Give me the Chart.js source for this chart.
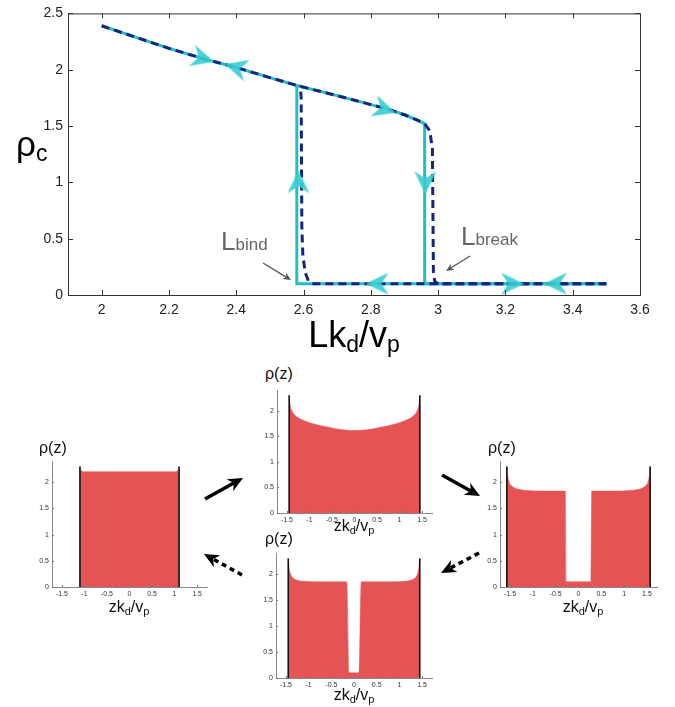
<!DOCTYPE html>
<html lang="en">
<head>
<meta charset="UTF-8">
<title>Hysteresis of central density</title>
<script src="https://cdn.jsdelivr.net/npm/chart.js"></script>
<style>
    body {
        margin: 0;
        width: 675px;
        height: 707px;
        position: relative;
        background: #fff;
        font-family: "Liberation Sans", Arial, sans-serif;
        overflow: hidden;
    }
    canvas { position: absolute; }
    .lbl { position: absolute; line-height: 1; white-space: nowrap; }
    .note { color: #666; font-size: 26px; }
    .note span { font-size: 17px; }
    .small { font-size: 16px; color: #111; }
    .small sub { font-size: 11px; vertical-align: baseline; position: relative; top: 3px; }
    svg { position: absolute; left: 0; top: 0; }
</style>
</head>
<body>
<canvas id="main" width="675" height="320" style="left:0;top:0"></canvas>

<div class="lbl" style="left:16px;top:126px;font-size:35px">ρ<span style="font-size:23px;position:relative;top:5px">c</span></div>
<div class="lbl" style="left:0;width:708px;text-align:center;top:317px;font-size:36px">Lk<span style="font-size:23px;position:relative;top:5px">d</span>/v<span style="font-size:23px;position:relative;top:5px">p</span></div>
<div class="lbl note" style="left:221px;top:228px">L<span>bind</span></div>
<div class="lbl note" style="left:461px;top:223px">L<span>break</span></div>

<canvas id="pA"></canvas>
<canvas id="pB"></canvas>
<canvas id="pC"></canvas>
<canvas id="pD"></canvas>

<div class="lbl small" style="left:39px;top:440px">ρ(z)</div>
<div class="lbl small" style="left:265px;top:366px">ρ(z)</div>
<div class="lbl small" style="left:488px;top:440px">ρ(z)</div>
<div class="lbl small" style="left:265px;top:531px">ρ(z)</div>
<div class="lbl small" style="left:79px;width:100px;text-align:center;top:599px">zk<sub>d</sub>/v<sub>p</sub></div>
<div class="lbl small" style="left:304px;width:100px;text-align:center;top:518px">zk<sub>d</sub>/v<sub>p</sub></div>
<div class="lbl small" style="left:533px;width:100px;text-align:center;top:599px">zk<sub>d</sub>/v<sub>p</sub></div>
<div class="lbl small" style="left:304px;width:100px;text-align:center;top:687px">zk<sub>d</sub>/v<sub>p</sub></div>

<svg id="arrows" width="675" height="707"></svg>

<script>
// ---- top panel: central density vs. Lk_d/v_p ----
const mainXTicks = [2, 2.2, 2.4, 2.6, 2.8, 3, 3.2, 3.4, 3.6];
const mainYTicks = [0, 0.5, 1, 1.5, 2, 2.5];

// theory, increasing L (solid)
const fwdL   = [2.0, 2.1, 2.2, 2.3, 2.4, 2.5, 2.58, 2.7, 2.8, 2.85, 2.9, 2.94, 2.96, 2.96, 3.5];
const fwdRho = [2.39, 2.29, 2.19, 2.10, 2.02, 1.93, 1.86, 1.77, 1.69, 1.65, 1.60, 1.55, 1.52, 0.1, 0.1];
// theory, decreasing L (solid)
const bwdL   = [3.5, 2.58, 2.58];
const bwdRho = [0.1, 0.1, 1.86];
// simulation, increasing L (dashed)
const simFwdL   = [2.0, 2.1, 2.2, 2.3, 2.4, 2.5, 2.58, 2.7, 2.8, 2.85, 2.9, 2.94, 2.96, 2.975, 2.983, 2.986, 2.99, 3.0, 3.5];
const simFwdRho = [2.39, 2.29, 2.19, 2.10, 2.02, 1.93, 1.86, 1.77, 1.69, 1.65, 1.60, 1.55, 1.52, 1.46, 1.3, 0.2, 0.12, 0.1, 0.1];
// simulation, decreasing L (dashed)
const simBwdL   = [3.5, 2.63, 2.615, 2.605, 2.598, 2.595, 2.593, 2.59];
const simBwdRho = [0.1, 0.1, 0.12, 0.2, 0.35, 0.6, 1.75, 1.86];

// direction markers on the loop
const arrowL     = [2.30, 2.40, 2.84, 2.585, 2.962, 2.82, 3.22, 3.35];
const arrowRho   = [2.10, 2.02, 1.65, 1.0, 1.0, 0.1, 0.1, 0.1];
const arrowAngle = [16, 196, 18, -90, 90, 180, 0, 180];

// ---- bottom panels: density profiles rho(z) ----
const zTicks = [-1.5, -1, -0.5, 0, 0.5, 1, 1.5];
const rTicks = [0, 0.5, 1, 1.5, 2];

const profA_z = [-1.1, -1.09, -1.07, -1.04, -1.0, -0.5, 0, 0.5, 1.0, 1.04, 1.07, 1.09, 1.1];
const profA_r = [2.3, 2.25, 2.22, 2.205, 2.2, 2.2, 2.2, 2.2, 2.2, 2.205, 2.22, 2.25, 2.3];
const wallsA = [-1.1, 1.1];

const profB_z = [-1.45, -1.43, -1.4, -1.35, -1.25, -1.1, -0.9, -0.6, -0.3, 0, 0.3, 0.6, 0.9, 1.1, 1.25, 1.35, 1.4, 1.43, 1.45];
const profB_r = [2.3, 2.12, 2.02, 1.94, 1.86, 1.80, 1.74, 1.68, 1.63, 1.61, 1.63, 1.68, 1.74, 1.80, 1.86, 1.94, 2.02, 2.12, 2.3];
const wallsB = [-1.45, 1.45];

const profC_z = [-1.57, -1.55, -1.52, -1.47, -1.4, -1.3, -1.1, -0.8, -0.29, -0.27, 0.27, 0.29, 0.8, 1.1, 1.3, 1.4, 1.47, 1.52, 1.55, 1.57];
const profC_r = [2.3, 2.12, 2.0, 1.93, 1.89, 1.86, 1.84, 1.83, 1.83, 0.1, 0.1, 1.83, 1.83, 1.84, 1.86, 1.89, 1.93, 2.0, 2.12, 2.3];
const wallsC = [-1.57, 1.57];

const profD_z = [-1.45, -1.43, -1.4, -1.35, -1.25, -1.1, -0.8, -0.16, -0.11, 0.11, 0.16, 0.8, 1.1, 1.25, 1.35, 1.4, 1.43, 1.45];
const profD_r = [2.3, 2.12, 2.0, 1.93, 1.88, 1.86, 1.85, 1.85, 0.1, 0.1, 1.85, 1.85, 1.86, 1.88, 1.93, 2.0, 2.12, 2.3];
const wallsD = [-1.45, 1.45];

const CYAN = '#1fbfc6';
const NAVY = '#17237f';
const RED = '#e55454';

const pts = (xs, ys) => xs.map((x, i) => ({ x: x, y: ys[i] }));

// barbed arrowhead used as point style
function arrowHead() {
    const c = document.createElement('canvas');
    c.width = 26; c.height = 26;
    const g = c.getContext('2d');
    g.translate(13, 13);
    g.fillStyle = 'rgba(55,205,210,0.9)';
    g.beginPath();
    g.moveTo(12, 0);
    g.lineTo(-11, -11);
    g.lineTo(-4, 0);
    g.lineTo(-11, 11);
    g.closePath();
    g.fill();
    return c;
}

// box around the plot with inward ticks on every side
const boxTicks = {
    id: 'boxTicks',
    afterDraw(chart) {
        const { ctx, chartArea: a, scales } = chart;
        ctx.save();
        ctx.strokeStyle = '#333';
        ctx.lineWidth = 1;
        ctx.strokeRect(a.left + 0.5, a.top + 0.5, a.right - a.left, a.bottom - a.top);
        ctx.beginPath();
        mainXTicks.forEach(v => {
            const px = Math.round(scales.x.getPixelForValue(v)) + 0.5;
            ctx.moveTo(px, a.bottom); ctx.lineTo(px, a.bottom - 5);
            ctx.moveTo(px, a.top); ctx.lineTo(px, a.top + 5);
        });
        mainYTicks.forEach(v => {
            const py = Math.round(scales.y.getPixelForValue(v)) + 0.5;
            ctx.moveTo(a.left, py); ctx.lineTo(a.left + 5, py);
            ctx.moveTo(a.right, py); ctx.lineTo(a.right - 5, py);
        });
        ctx.stroke();
        ctx.restore();
    }
};

const head = arrowHead();

new Chart(document.getElementById('main'), {
    type: 'scatter',
    data: {
        datasets: [
            {
                data: pts(arrowL, arrowRho),
                pointStyle: head,
                pointRotation: arrowAngle,
                pointRadius: 12,
                showLine: false
            },
            {
                data: pts(simFwdL, simFwdRho),
                showLine: true, borderColor: NAVY, borderWidth: 3,
                borderDash: [8, 5], pointRadius: 0
            },
            {
                data: pts(simBwdL, simBwdRho),
                showLine: true, borderColor: NAVY, borderWidth: 3,
                borderDash: [8, 5], pointRadius: 0
            },
            {
                data: pts(fwdL, fwdRho),
                showLine: true, borderColor: CYAN, borderWidth: 3, pointRadius: 0
            },
            {
                data: pts(bwdL, bwdRho),
                showLine: true, borderColor: CYAN, borderWidth: 3, pointRadius: 0
            }
        ]
    },
    options: {
        responsive: false,
        animation: false,
        devicePixelRatio: 1,
        layout: { padding: { top: 9, right: 35, left: 0, bottom: 0 } },
        plugins: { legend: { display: false }, tooltip: { enabled: false } },
        scales: {
            x: {
                type: 'linear', min: 1.9, max: 3.6,
                grid: { display: false, drawTicks: false },
                border: { display: false },
                afterBuildTicks: s => { s.ticks = mainXTicks.map(v => ({ value: v })); },
                afterFit: s => { s.height = 25; },
                ticks: {
                    padding: 7, color: '#222',
                    font: { family: 'Liberation Sans', size: 14 },
                    callback: v => String(v)
                }
            },
            y: {
                min: 0, max: 2.5,
                grid: { display: false, drawTicks: false },
                border: { display: false },
                afterBuildTicks: s => { s.ticks = mainYTicks.map(v => ({ value: v })); },
                afterFit: s => { s.width = 68; },
                ticks: {
                    padding: 5, color: '#222',
                    font: { family: 'Liberation Sans', size: 14 },
                    callback: v => String(v)
                }
            }
        }
    },
    plugins: [boxTicks]
});

// small inward ticks for the profile panels
const smallTicks = {
    id: 'smallTicks',
    afterDraw(chart) {
        const { ctx, chartArea: a, scales } = chart;
        ctx.save();
        ctx.strokeStyle = '#777';
        ctx.lineWidth = 1;
        ctx.beginPath();
        zTicks.forEach(v => {
            const px = Math.round(scales.x.getPixelForValue(v)) + 0.5;
            ctx.moveTo(px, a.bottom); ctx.lineTo(px, a.bottom - 2);
        });
        rTicks.forEach(v => {
            const py = Math.round(scales.y.getPixelForValue(v)) + 0.5;
            ctx.moveTo(a.left, py); ctx.lineTo(a.left + 2, py);
        });
        ctx.stroke();
        ctx.restore();
    }
};

function profile(id, box, zs, rs, walls) {
    const cv = document.getElementById(id);
    const padL = 24, padT = 6, padR = 8, padB = 14;
    cv.width = box.r - box.l + padL + padR;
    cv.height = box.b - box.t + padT + padB;
    cv.style.left = (box.l - padL) + 'px';
    cv.style.top = (box.t - padT) + 'px';
    const wallSet = walls.map(w => ({
        data: [{ x: w, y: 0 }, { x: w, y: 2.3 }],
        showLine: true, borderColor: '#111', borderWidth: 1.6, pointRadius: 0
    }));
    new Chart(cv, {
        type: 'scatter',
        data: {
            datasets: wallSet.concat([{
                data: pts(zs, rs),
                showLine: true, fill: 'origin',
                cubicInterpolationMode: 'monotone',
                backgroundColor: RED, borderColor: RED, borderWidth: 0.5,
                pointRadius: 0
            }])
        },
        options: {
            responsive: false,
            animation: false,
            devicePixelRatio: 1,
            layout: { padding: { top: padT, right: padR, left: 0, bottom: 0 } },
            plugins: { legend: { display: false }, tooltip: { enabled: false } },
            scales: {
                x: {
                    type: 'linear', min: -1.72, max: 1.72,
                    grid: { display: false, drawTicks: false },
                    border: { display: true, color: '#888', width: 1 },
                    afterBuildTicks: s => { s.ticks = zTicks.map(v => ({ value: v })); },
                    afterFit: s => { s.height = padB; },
                    ticks: {
                        padding: 3, color: '#333',
                        font: { family: 'Liberation Sans', size: 7 },
                        callback: v => String(v)
                    }
                },
                y: {
                    min: 0, max: 2.4,
                    grid: { display: false, drawTicks: false },
                    border: { display: true, color: '#888', width: 1 },
                    afterBuildTicks: s => { s.ticks = rTicks.map(v => ({ value: v })); },
                    afterFit: s => { s.width = padL; },
                    ticks: {
                        padding: 3, color: '#333',
                        font: { family: 'Liberation Sans', size: 7 },
                        callback: v => String(v)
                    }
                }
            }
        },
        plugins: [smallTicks]
    });
}

profile('pA', { l: 52, r: 207, t: 460, b: 587 }, profA_z, profA_r, wallsA);
profile('pB', { l: 277, r: 432, t: 389, b: 513 }, profB_z, profB_r, wallsB);
profile('pC', { l: 500, r: 657, t: 460, b: 587 }, profC_z, profC_r, wallsC);
profile('pD', { l: 276, r: 432, t: 552, b: 678 }, profD_z, profD_r, wallsD);

// transition arrows between profiles, plus the pointers for L_bind / L_break
const svg = document.getElementById('arrows');
const NS = 'http://www.w3.org/2000/svg';
function link(x1, y1, x2, y2, opt) {
    const ang = Math.atan2(y2 - y1, x2 - x1);
    const hl = opt.head, hw = opt.head * 0.45;
    const bx = x2 - hl * Math.cos(ang), by = y2 - hl * Math.sin(ang);
    const line = document.createElementNS(NS, 'line');
    line.setAttribute('x1', x1); line.setAttribute('y1', y1);
    line.setAttribute('x2', x2 - hl * 0.7 * Math.cos(ang));
    line.setAttribute('y2', y2 - hl * 0.7 * Math.sin(ang));
    line.setAttribute('stroke', opt.color);
    line.setAttribute('stroke-width', opt.width);
    if (opt.dash) line.setAttribute('stroke-dasharray', opt.dash);
    svg.appendChild(line);
    const p = document.createElementNS(NS, 'polygon');
    const nx = -Math.sin(ang), ny = Math.cos(ang);
    p.setAttribute('points', [
        [x2, y2],
        [bx + nx * hw, by + ny * hw],
        [x2 - hl * 0.7 * Math.cos(ang), y2 - hl * 0.7 * Math.sin(ang)],
        [bx - nx * hw, by - ny * hw]
    ].map(q => q.join(',')).join(' '));
    p.setAttribute('fill', opt.color);
    svg.appendChild(p);
}
const bold = { color: '#000', width: 3.5, head: 15 };
const dashed = { color: '#000', width: 3.5, head: 15, dash: '5 4' };
link(205, 499, 243, 478, bold);
link(442, 475, 480, 496, bold);
link(479, 553, 441, 573, dashed);
link(242, 575, 204, 554, dashed);
const thin = { color: '#555', width: 1.3, head: 8 };
link(263, 263, 291, 280, thin);
link(470, 256, 446, 271, thin);
</script>
</body>
</html>
